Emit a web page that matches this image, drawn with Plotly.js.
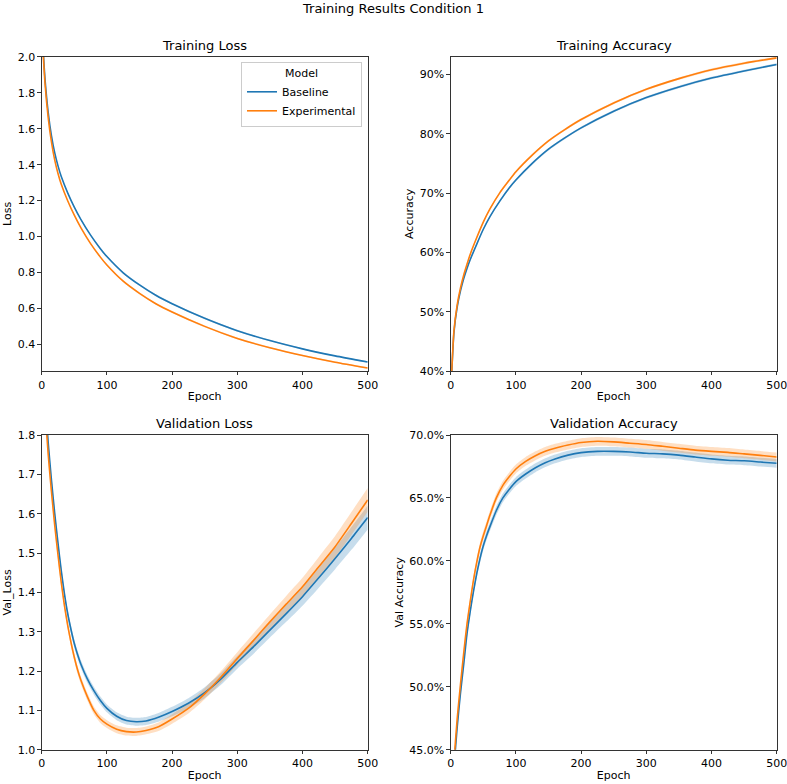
<!DOCTYPE html>
<html>
<head>
<meta charset="utf-8">
<script src="https://cdn.plot.ly/plotly-3.0.1.min.js"></script>
<style>
  html, body {margin:0; padding:0; background:#fff;}
  #chart {width:787px; height:784px;}
</style>
</head>
<body>
<div id="chart"></div>
<script>

// ---------------------------- DATA --------------------------------

var seriesNames = ['Baseline', 'Experimental']
var seriesColors = ['#1f77b4', '#ff7f0e']
var bandColors = ['rgba(31,119,180,0.25)', 'rgba(255,127,14,0.25)']

// training curves
var epochsTrain = [0,5,10,15,20,25,30,40,50,60,75,90,100,125,150,175,200,250,300,350,400,450,500]

var trainLossBase = [2.18,1.88,1.69,1.56,1.465,1.393,1.334,1.242,1.164,1.096,1.008,0.933,0.889,0.799,0.7315,0.674,0.627,0.546,0.477,0.422,0.376,0.337,0.303]
var trainLossExp  = [2.16,1.855,1.66,1.525,1.425,1.351,1.291,1.198,1.119,1.05,0.961,0.886,0.842,0.752,0.6845,0.627,0.581,0.501,0.434,0.382,0.339,0.302,0.270]
var trainLossBand = [0.004,0.004,0.004,0.004,0.004,0.004,0.004,0.004,0.004,0.004,0.004,0.005,0.005,0.005,0.005,0.005,0.005,0.005,0.005,0.004,0.004,0.004,0.004]

var trainAccBase = [0.36,0.465,0.508,0.535,0.556,0.573,0.588,0.614,0.639,0.66,0.686,0.709,0.722,0.75,0.774,0.793,0.81,0.838,0.861,0.879,0.894,0.906,0.917]
var trainAccExp  = [0.36,0.468,0.512,0.54,0.562,0.58,0.597,0.625,0.651,0.673,0.70,0.722,0.736,0.764,0.788,0.807,0.824,0.852,0.875,0.893,0.908,0.919,0.928]
var trainAccBand = [0.002,0.002,0.002,0.002,0.002,0.002,0.002,0.002,0.002,0.002,0.002,0.002,0.002,0.002,0.002,0.002,0.002,0.002,0.002,0.002,0.002,0.002,0.002]

// validation curves
var epochsVal = [0,5,10,15,20,25,30,35,40,45,50,55,60,70,80,90,100,115,130,145,160,180,200,225,250,275,300,325,350,375,400,425,450,475,500]

var valLossBase = [2.05,1.90,1.78,1.685,1.60,1.525,1.455,1.395,1.345,1.305,1.27,1.242,1.218,1.18,1.15,1.125,1.105,1.085,1.074,1.071,1.073,1.083,1.097,1.118,1.145,1.18,1.222,1.262,1.304,1.346,1.389,1.437,1.486,1.537,1.59]
var valLossExp  = [2.02,1.87,1.75,1.655,1.57,1.495,1.425,1.365,1.315,1.272,1.235,1.203,1.177,1.135,1.10,1.078,1.065,1.052,1.046,1.045,1.049,1.059,1.078,1.105,1.142,1.185,1.232,1.278,1.325,1.37,1.414,1.465,1.516,1.575,1.635]
var valLossBand = [0.01,0.01,0.01,0.01,0.01,0.01,0.01,0.01,0.01,0.01,0.01,0.01,0.01,0.01,0.01,0.01,0.01,0.01,0.01,0.01,0.01,0.011,0.012,0.013,0.014,0.015,0.016,0.018,0.019,0.021,0.023,0.025,0.027,0.029,0.03]

var valAccBase = [0.39,0.435,0.468,0.495,0.518,0.542,0.56,0.576,0.59,0.602,0.612,0.62,0.627,0.64,0.65,0.657,0.663,0.669,0.674,0.678,0.681,0.684,0.686,0.687,0.687,0.6865,0.6855,0.685,0.684,0.6825,0.681,0.680,0.6795,0.6785,0.6775]
var valAccExp  = [0.39,0.44,0.475,0.502,0.527,0.55,0.568,0.585,0.599,0.611,0.62,0.628,0.636,0.65,0.66,0.667,0.673,0.679,0.6835,0.687,0.6895,0.692,0.694,0.695,0.6945,0.6935,0.6925,0.691,0.6895,0.688,0.687,0.6862,0.685,0.6838,0.6825]
var valAccBand = [0.003,0.003,0.003,0.003,0.003,0.003,0.003,0.003,0.0035,0.0035,0.0035,0.0035,0.0035,0.0035,0.0035,0.0035,0.0035,0.0035,0.0035,0.0035,0.0035,0.0035,0.0035,0.0035,0.0035,0.0035,0.0035,0.0035,0.0035,0.0035,0.0035,0.0035,0.0035,0.0035,0.0035]


// ---------------------------- TRACES ------------------------------

function bandTraces(x, y, band, color, xa, ya) {
    var upper = [], lower = []
    for (var i=0;i<y.length;i++) {
        upper.push(y[i]+band[i])
        lower.push(y[i]-band[i])
    }
    var line = {width:0, shape:'spline', smoothing:0.6}
    return [
        {x:x, y:upper, xaxis:xa, yaxis:ya, mode:'lines', line:line, showlegend:false, hoverinfo:'skip'},
        {x:x, y:lower, xaxis:xa, yaxis:ya, mode:'lines', line:line, fill:'tonexty', fillcolor:color, showlegend:false, hoverinfo:'skip'}
    ]
}

function lineTrace(x, y, k, xa, ya, legend) {
    return {
        x:x, y:y, xaxis:xa, yaxis:ya, mode:'lines', name:seriesNames[k],
        line:{color:seriesColors[k], width:1.6, shape:'spline', smoothing:0.6},
        showlegend:legend, legendgroup:seriesNames[k]
    }
}

var panels = [
    {x:epochsTrain, ys:[trainLossBase, trainLossExp], band:trainLossBand, xa:'x',  ya:'y'},
    {x:epochsTrain, ys:[trainAccBase, trainAccExp],   band:trainAccBand,  xa:'x2', ya:'y2'},
    {x:epochsVal,   ys:[valLossBase, valLossExp],     band:valLossBand,   xa:'x3', ya:'y3'},
    {x:epochsVal,   ys:[valAccBase, valAccExp],       band:valAccBand,    xa:'x4', ya:'y4'},
]

var data = []
for (var p=0;p<panels.length;p++) {
    var P = panels[p]
    for (var k=0;k<2;k++) {
        data = data.concat(bandTraces(P.x, P.ys[k], P.band, bandColors[k], P.xa, P.ya))
    }
    for (var k=0;k<2;k++) {
        data.push(lineTrace(P.x, P.ys[k], k, P.xa, P.ya, p==0))
    }
}


// ---------------------------- LAYOUT ------------------------------

var W = 787, H = 784
var colL = [41.7/W, 367.7/W]
var colR = [450.7/W, 776.7/W]
var rowT = [1-371/H, 1-56.7/H]
var rowB = [1-749.7/H, 1-435/H]

var tickFont = {family:'DejaVu Sans', size:11, color:'#000'}
var titleFont = {family:'DejaVu Sans', size:13, color:'#000'}

function xAxis(domain, anchor) {
    return {
        domain:domain, anchor:anchor, range:[0,500], dtick:100, tick0:0,
        showgrid:false, zeroline:false, showline:true, linecolor:'#000', linewidth:0.8, mirror:true,
        ticks:'outside', ticklen:3.5, tickwidth:0.8, tickcolor:'#000', tickfont:tickFont,
        ticklabeloverflow:'allow',
        title:{text:'Epoch', font:tickFont, standoff:1},
    }
}

function yAxis(domain, anchor, range, dtick, fmt, title) {
    return {
        domain:domain, anchor:anchor, range:range, dtick:dtick, tick0:0, tickformat:fmt,
        showgrid:false, zeroline:false, showline:true, linecolor:'#000', linewidth:0.8, mirror:true,
        ticks:'outside', ticklen:3.5, tickwidth:0.8, tickcolor:'#000', tickfont:tickFont,
        ticklabeloverflow:'allow',
        title:{text:title, font:tickFont, standoff:3},
    }
}

function panelTitle(text, xdom, ydom) {
    return {
        text:text, xref:'paper', yref:'paper', x:(xdom[0]+xdom[1])/2, y:ydom[1],
        xanchor:'center', yanchor:'bottom', yshift:2, showarrow:false,
        font:titleFont
    }
}

var layout = {
    width:W, height:H,
    margin:{l:0, r:0, t:0, b:0},
    paper_bgcolor:'#fff', plot_bgcolor:'#fff',
    font:{family:'DejaVu Sans', size:11, color:'#000'},
    title:{text:'Training Results Condition 1', font:titleFont,
        x:0.5, xanchor:'center', y:1-8/H, yref:'container', yanchor:'middle'},
    xaxis:  xAxis(colL, 'y'),
    yaxis:  yAxis(rowT, 'x',  [0.253,2.0], 0.2, '.1f', 'Loss'),
    xaxis2: xAxis(colR, 'y2'),
    yaxis2: yAxis(rowT, 'x2', [0.40,0.93], 0.1, '.0%', 'Accuracy'),
    xaxis3: xAxis(colL, 'y3'),
    yaxis3: yAxis(rowB, 'x3', [1.0,1.8], 0.1, '.1f', 'Val_Loss'),
    xaxis4: xAxis(colR, 'y4'),
    yaxis4: yAxis(rowB, 'x4', [0.45,0.70], 0.05, '.1%', 'Val Accuracy'),
    showlegend:true,
    legend:{
        x:362/W, y:1-62/H, xanchor:'right', yanchor:'top',
        bgcolor:'rgba(255,255,255,0.8)', bordercolor:'#ccc', borderwidth:1,
        font:tickFont,
        title:{text:'Model', side:'top center', font:tickFont},
        itemwidth:30, tracegroupgap:0,
    },
    annotations:[
        panelTitle('Training Loss', colL, rowT),
        panelTitle('Training Accuracy', colR, rowT),
        panelTitle('Validation Loss', colL, rowB),
        panelTitle('Validation Accuracy', colR, rowB),
    ],
}

Plotly.newPlot('chart', data, layout, {displayModeBar:false, staticPlot:true})

</script>
</body>
</html>
